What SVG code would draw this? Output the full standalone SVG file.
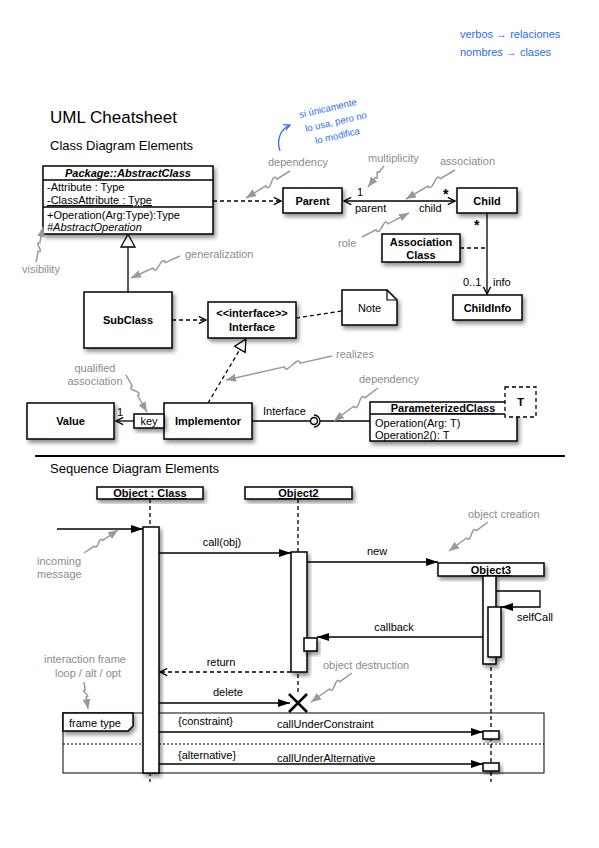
<svg xmlns="http://www.w3.org/2000/svg" width="599" height="848" viewBox="0 0 599 848">
<style>
.t{font-family:"Liberation Sans",Arial,sans-serif;font-size:11px;fill:#000}
.b{font-weight:bold}
.m{text-anchor:middle}
.g{fill:#8c8c8c}
.blue{font-family:"Liberation Sans",Arial,sans-serif;font-size:11px;fill:#2a6bf2}
.box{fill:#fff;stroke:#000;stroke-width:1.5;filter:url(#sh)}
.ln{fill:none;stroke:#000;stroke-width:1.3}
.dash{stroke-dasharray:4,3}
.sq{fill:none;stroke:#9a9a9a;stroke-width:1.5;marker-end:url(#ga)}
</style>
<defs>
<filter id="sh" x="-20%" y="-20%" width="150%" height="160%">
<feDropShadow dx="2" dy="3" stdDeviation="2" flood-color="#000" flood-opacity="0.45"/>
</filter>
<marker id="oa" viewBox="0 0 10 10" refX="9" refY="5" markerWidth="9" markerHeight="9" markerUnits="userSpaceOnUse" orient="auto-start-reverse"><path d="M1,1 L9,5 L1,9" fill="none" stroke="#000" stroke-width="1.5"/></marker>
<marker id="fa" viewBox="0 0 12 8" refX="12" refY="4" markerWidth="12" markerHeight="8" markerUnits="userSpaceOnUse" orient="auto"><path d="M0,0 L12,4 L0,8 Z" fill="#000"/></marker>
<marker id="ga" viewBox="0 0 10 8" refX="10" refY="4" markerWidth="10" markerHeight="8" markerUnits="userSpaceOnUse" orient="auto"><path d="M0,0 L10,4 L0,8 Z" fill="#999"/></marker>
<marker id="ba" viewBox="0 0 8 8" refX="7" refY="4" markerWidth="8" markerHeight="8" markerUnits="userSpaceOnUse" orient="auto"><path d="M1,1 L7,4 L1,7" fill="none" stroke="#2a6bf2" stroke-width="1.3"/></marker>
</defs>
<rect width="599" height="848" fill="#fff"/>

<!-- handwritten notes -->
<g id="handwriting">
<text class="blue" x="460" y="38">verbos → relaciones</text>
<text class="blue" x="460" y="56">nombres → clases</text>
<text class="blue" style="font-size:9.5px" transform="translate(300,118) rotate(-13)">si únicamente</text>
<text class="blue" style="font-size:9.5px" transform="translate(306,132) rotate(-13)">lo usa, pero no</text>
<text class="blue" style="font-size:9.5px" transform="translate(316,144) rotate(-13)">lo modifica</text>
<path d="M280,151 C276,139 281,129 290,125" fill="none" stroke="#2a6bf2" stroke-width="1.3" marker-end="url(#ba)"/>
</g>

<g id="titles">
<text class="t" x="50" y="123" style="font-size:17px">UML Cheatsheet</text>
<text class="t" x="50" y="150" style="font-size:13px">Class Diagram Elements</text>
<text class="t" x="50" y="473" style="font-size:13px">Sequence Diagram Elements</text>
<line x1="35" y1="456" x2="565" y2="456" stroke="#000" stroke-width="2"/>
</g>

<!-- connectors -->
<g id="connectors">
<line class="ln dash" x1="213" y1="201" x2="281" y2="201" marker-end="url(#oa)"/>
<line class="ln" x1="344" y1="201" x2="455" y2="201" marker-start="url(#oa)" marker-end="url(#oa)"/>
<line class="ln" x1="487" y1="213" x2="487" y2="294" marker-end="url(#oa)"/>
<line class="ln dash" x1="460" y1="248" x2="487" y2="248"/>
<line class="ln" x1="128" y1="292" x2="128" y2="247"/>
<polygon points="128,234 121,247 135,247" fill="#fff" stroke="#000" stroke-width="1.3"/>
<line class="ln dash" x1="172" y1="320" x2="206" y2="320" marker-end="url(#oa)"/>
<line class="ln dash" x1="296" y1="318" x2="342" y2="311"/>
<line class="ln dash" x1="208" y1="403" x2="240" y2="349.3"/>
<polygon points="246,339 245.1,352.4 234.7,346.2" fill="#fff" stroke="#000" stroke-width="1.3"/>
<line class="ln" x1="134" y1="421" x2="116" y2="421" marker-end="url(#oa)"/>
<line class="ln" x1="252" y1="421" x2="310.5" y2="421"/>
<circle cx="314" cy="421" r="3.5" fill="#fff" stroke="#000" stroke-width="1.5"/>
<path d="M314,415 A6,6 0 0 1 314,427" fill="none" stroke="#000" stroke-width="1.3"/>
<line class="ln" x1="320" y1="421" x2="370" y2="421"/>

<!-- sequence -->
<line class="ln dash" x1="150" y1="499" x2="150" y2="782"/>
<line class="ln dash" x1="298" y1="499" x2="298" y2="694"/>
<line class="ln dash" x1="491" y1="576" x2="491" y2="782"/>
<line class="ln" x1="57" y1="529" x2="143" y2="529" marker-end="url(#fa)"/>
<line class="ln" x1="159" y1="553" x2="291" y2="553" marker-end="url(#fa)"/>
<line class="ln" x1="307" y1="562" x2="438" y2="562" marker-end="url(#fa)"/>
<path class="ln" d="M496,591 H540 V607 H501" marker-end="url(#fa)"/>
<line class="ln" x1="488" y1="637" x2="317" y2="637" marker-end="url(#fa)"/>
<line class="ln dash" x1="291" y1="672" x2="160" y2="672" marker-end="url(#oa)"/>
<line class="ln" x1="159" y1="703" x2="290" y2="703" marker-end="url(#fa)"/>
<line class="ln" x1="159" y1="732" x2="483" y2="732" marker-end="url(#fa)"/>
<line class="ln" x1="159" y1="764" x2="483" y2="764" marker-end="url(#fa)"/>
</g>

<!-- connector labels -->
<g id="labels">
<text class="t" x="357" y="196">1</text>
<text class="t b" x="443" y="199" style="font-size:14px">*</text>
<text class="t" x="355" y="212">parent</text>
<text class="t" x="419" y="212">child</text>
<text class="t b" x="474" y="230" style="font-size:14px">*</text>
<text class="t" x="463" y="286">0..1</text>
<text class="t" x="493" y="286">info</text>
<text class="t" x="117" y="416">1</text>
<text class="t" x="263" y="415">Interface</text>
<text class="t m" x="222" y="546">call(obj)</text>
<text class="t m" x="377" y="555">new</text>
<text class="t" x="517" y="621">selfCall</text>
<text class="t m" x="394" y="631">callback</text>
<text class="t m" x="221" y="666">return</text>
<text class="t m" x="228" y="696">delete</text>
<text class="t" x="178" y="725">{constraint}</text>
<text class="t" x="277" y="728">callUnderConstraint</text>
<text class="t" x="178" y="759">{alternative}</text>
<text class="t" x="277" y="762">callUnderAlternative</text>
</g>

<!-- class nodes -->
<g id="abstractClass">
<rect class="box" x="43" y="166" width="170" height="68"/>
<line x1="43" y1="180" x2="213" y2="180" stroke="#000" stroke-width="1.3"/>
<line x1="43" y1="207" x2="213" y2="207" stroke="#000" stroke-width="1.3"/>
<text class="t b m" x="128" y="177" style="font-style:italic">Package::AbstractClass</text>
<text class="t" x="47" y="191">-Attribute : Type</text>
<text class="t" x="47" y="204" text-decoration="underline">-ClassAttribute : Type</text>
<text class="t" x="47" y="219">+Operation(Arg:Type):Type</text>
<text class="t" x="47" y="231" style="font-style:italic">#AbstractOperation</text>
</g>
<g id="parent"><rect class="box" x="283" y="188" width="59" height="25"/><text class="t b m" x="312.5" y="205">Parent</text></g>
<g id="child"><rect class="box" x="457" y="188" width="60" height="25"/><text class="t b m" x="487" y="205">Child</text></g>
<g id="associationClass"><rect class="box" x="382" y="234" width="78" height="28"/><text class="t b m" x="421" y="246">Association</text><text class="t b m" x="421" y="259">Class</text></g>
<g id="childInfo"><rect class="box" x="453" y="295" width="69" height="25"/><text class="t b m" x="487.5" y="312">ChildInfo</text></g>
<g id="note"><path class="box" d="M342,290 H387 L397,300 V325 H342 Z"/><path d="M387,290 V300 H397" fill="none" stroke="#000" stroke-width="1.2"/><text class="t m" x="369.5" y="312">Note</text></g>
<g id="subClass"><rect class="box" x="84" y="292" width="88" height="56"/><text class="t b m" x="128" y="324">SubClass</text></g>
<g id="interface"><rect class="box" x="208" y="302" width="88" height="36"/><text class="t b m" x="252" y="317">&lt;&lt;interface&gt;&gt;</text><text class="t b m" x="252" y="331">Interface</text></g>
<g id="value"><rect class="box" x="27" y="403" width="87" height="36"/><text class="t b m" x="70.5" y="425">Value</text></g>
<g id="implementor"><rect class="box" x="164" y="403" width="88" height="36"/><text class="t b m" x="208" y="425">Implementor</text>
<rect class="box" x="134" y="414" width="30" height="14"/><text class="t m" x="149" y="425">key</text></g>
<g id="parameterizedClass"><rect class="box" x="370" y="402" width="147" height="39"/>
<line x1="370" y1="414" x2="517" y2="414" stroke="#000" stroke-width="1.3"/>
<text class="t b m" x="443" y="412" text-decoration="underline">ParameterizedClass</text>
<text class="t" x="375" y="427">Operation(Arg: T)</text>
<text class="t" x="375" y="439">Operation2(): T</text>
<rect x="505" y="387" width="31" height="30" fill="#fff" stroke="#000" stroke-width="1.3" stroke-dasharray="4,3"/>
<text class="t b m" x="520.5" y="406">T</text></g>

<!-- sequence nodes -->
<g id="frame">
<rect x="63" y="713" width="481" height="60" fill="none" stroke="#000" stroke-width="1"/>
<line x1="63" y1="744" x2="544" y2="744" stroke="#000" stroke-width="1.2" stroke-dasharray="2,2"/>
<path class="box" d="M63,713 H133 V726 L128,731 H63 Z"/>
<text class="t" x="69" y="727">frame type</text>
</g>
<g id="objectClass"><rect class="box" x="97" y="487" width="106" height="12"/><text class="t b m" x="150" y="497" text-decoration="underline">Object : Class</text>
<rect class="box" x="143" y="527" width="16" height="246"/></g>
<g id="object2"><rect class="box" x="245" y="487" width="107" height="12"/><text class="t b m" x="298.5" y="497" text-decoration="underline">Object2</text>
<rect class="box" x="291" y="552" width="16" height="120"/>
<rect class="box" x="304" y="638" width="13" height="13"/>
<path d="M289,694 L307,712 M307,694 L289,712" stroke="#000" stroke-width="2.5"/></g>
<g id="object3"><rect class="box" x="438" y="563" width="106" height="13"/><text class="t b m" x="491" y="574" text-decoration="underline">Object3</text>
<rect class="box" x="483" y="576" width="13" height="88"/>
<rect class="box" x="488" y="607" width="13" height="50"/>
<rect class="box" x="483" y="731" width="16" height="8"/>
<rect class="box" x="483" y="763" width="16" height="8"/></g>

<!-- annotations -->
<g id="annotations">
<text class="t g" x="268" y="166">dependency</text>
<path class="sq" d="M290,171 L276.8,179.1 C271.6,170.6 271,194.4 265.8,185.9 L246,198"/>
<text class="t g" x="368" y="162">multiplicity</text>
<path class="sq" d="M384,166 L379.2,172.3 C374.4,168.7 380,181.2 375.2,177.6 L368,187"/>
<text class="t g" x="440" y="165">association</text>
<path class="sq" d="M455,170 L440.3,178.7 C435.7,171 432.6,193.7 428,186 L406,199"/>
<text class="t g" x="338" y="247">role</text>
<path class="sq" d="M362,237 L376.1,229.8 C380.2,237.8 383.8,215.8 387.9,223.8 L409,213"/>
<text class="t g" x="22" y="273">visibility</text>
<path class="sq" d="M36,262 L38.1,251.5 C45,252.9 33,241.4 39.9,242.8 L43,227"/>
<text class="t g" x="185" y="258">generalization</text>
<path class="sq" d="M180,256 L165.3,262.6 C161.6,254.4 156.7,276.3 153,268.1 L131,278"/>
<text class="t g" x="336" y="358">realizes</text>
<path class="sq" d="M332,356 L300.2,363.2 C298.2,354.4 286.3,375.6 284.3,366.8 L226,380"/>
<text class="t g" x="359" y="383">dependency</text>
<path class="sq" d="M378,388 L364.8,397.9 C359.4,390.7 359.2,413.4 353.8,406.2 L334,421"/>
<text class="t g m" x="95" y="372">qualified</text>
<text class="t g m" x="95" y="385">association</text>
<path class="sq" d="M126,375 L132.3,386.1 C125.3,390.1 144.6,391.4 137.6,395.4 L147,412"/>
<text class="t g" x="37" y="565">incoming</text>
<text class="t g" x="37" y="578">message</text>
<path class="sq" d="M84,553 L94.2,546.1 C98.1,551.9 98.8,534.6 102.7,540.4 L118,530"/>
<text class="t g" x="468" y="518">object creation</text>
<path class="sq" d="M488,522 L476.3,530.7 C471.5,524.3 471.4,544.4 466.6,538 L449,551"/>
<text class="t g" x="323" y="669">object destruction</text>
<path class="sq" d="M352,673 L339.7,681.7 C335.1,675.2 334.1,695.5 329.5,689 L311,702"/>
<text class="t g" x="44" y="663">interaction frame</text>
<text class="t g m" x="88" y="677">loop / alt / opt</text>
<path class="sq" d="M84,682 L85.2,690.1 C79.3,691 92.1,696 86.2,696.9 L88,709"/>
</g>
</svg>
